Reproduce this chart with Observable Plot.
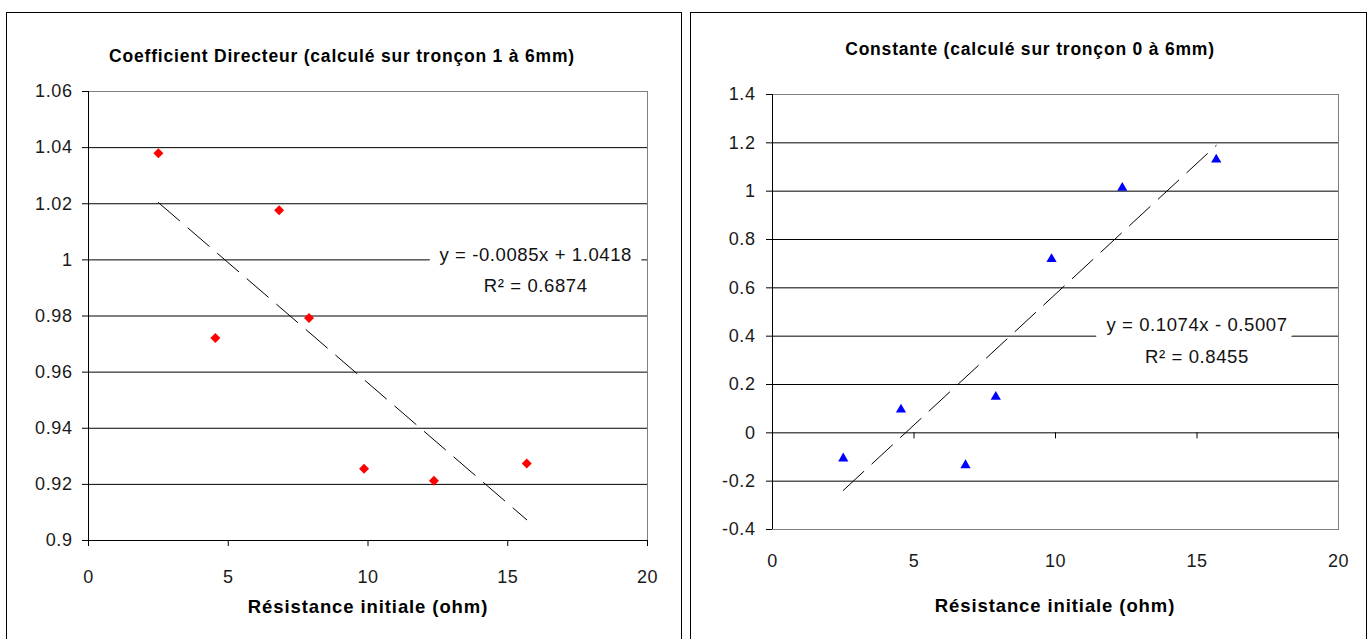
<!DOCTYPE html>
<html>
<head>
<meta charset="utf-8">
<script src="https://cdn.jsdelivr.net/npm/d3@7"></script>
<script src="https://cdn.jsdelivr.net/npm/@observablehq/plot@0.6"></script>
<style>
  html, body { margin: 0; padding: 0; background: #fff; }
  #page { position: relative; width: 1370px; height: 639px; overflow: hidden; background: #fff;
          font-family: "Liberation Sans", Arial, sans-serif; }
  .panel { position: absolute; top: 12px; height: 700px; box-sizing: border-box;
           border: 1px solid #000; z-index: 2; pointer-events: none; }
  .chart { position: absolute; top: 0; z-index: 1; }
  .title { position: absolute; font-weight: bold; font-size: 17.5px; line-height: 17.5px; letter-spacing: 0.8px;
           white-space: nowrap; transform: translateX(-50%); color: #000; z-index: 3; }
  .xtitle { position: absolute; font-weight: bold; font-size: 18.5px; line-height: 18.5px; letter-spacing: 0.9px;
            white-space: nowrap; transform: translateX(-50%); color: #000; z-index: 3; }
</style>
</head>
<body>
<div id="page">
  <div class="panel" style="left:6px; width:676px;"></div>
  <div class="panel" style="left:690px; width:677px;"></div>
  <div class="title" style="left:342px; top:48px;">Coefficient Directeur (calculé sur tronçon 1 à 6mm)</div>
  <div class="title" style="left:1030px; top:41px;">Constante (calculé sur tronçon 0 à 6mm)</div>
  <div class="xtitle" style="left:368px; top:598px;">Résistance initiale (ohm)</div>
  <div class="xtitle" style="left:1055px; top:597px;">Résistance initiale (ohm)</div>
  <div id="left" class="chart" style="left:0px;"></div>
  <div id="right" class="chart" style="left:685px;"></div>
</div>
<script>
// ---- data ----
const resistance     = [2.5, 4.54, 6.82, 7.89, 9.86, 12.36, 15.68];
const coeffDirecteur = [1.038, 0.9722, 1.0177, 0.9793, 0.9256, 0.9213, 0.9274];
const constante      = [-0.102, 0.100, -0.130, 0.153, 0.723, 1.018, 1.135];

const xTicks      = [0, 5, 10, 15, 20];
const leftYTicks  = [0.9, 0.92, 0.94, 0.96, 0.98, 1, 1.02, 1.04, 1.06];
const rightYTicks = [-0.4, -0.2, 0, 0.2, 0.4, 0.6, 0.8, 1, 1.2, 1.4];

const leftEquation  = ["y = -0.0085x + 1.0418", "R² = 0.6874"];
const rightEquation = ["y = 0.1074x - 0.5007", "R² = 0.8455"];

// ---- build ----
const leftData  = resistance.map((x, i) => ({x, y: coeffDirecteur[i]}));
const rightData = resistance.map((x, i) => ({x, y: constante[i]}));
const fmt = d => String(Math.round(d * 100) / 100);
const svgStyle = "background:transparent;font-family:'Liberation Sans',Arial,sans-serif;font-size:18px;letter-spacing:0.6px;color:#000;overflow:visible";

const leftPlot = Plot.plot({
  width: 685, height: 639,
  marginLeft: 88, marginRight: 38, marginTop: 91, marginBottom: 99,
  x: {domain: [0, 20]},
  y: {domain: [0.9, 1.06]},
  style: svgStyle,
  marks: [
    Plot.frame({stroke: "#808080"}),
    Plot.ruleY(leftYTicks.filter(d => d < 1.06), {stroke: "#000"}),
    Plot.ruleX([0], {stroke: "#000"}),
    Plot.axisY({ticks: leftYTicks, tickSize: 6, tickPadding: 10, tickFormat: fmt, label: null, fill: "#1a1a1a"}),
    Plot.axisX({ticks: xTicks, tickSize: 6, tickPadding: 24, tickFormat: fmt, label: null, fill: "#1a1a1a"}),
    Plot.linearRegressionY(leftData, {x: "x", y: "y", stroke: "#000", strokeWidth: 1, strokeDasharray: "28,11", ci: 0}),
    Plot.dot(leftData, {x: "x", y: "y", symbol: "diamond2", r: 4.5, fill: "#ff0000", stroke: null}),
    Plot.text([leftEquation.join("\n")], {x: 16, y: 0.9975, text: d => d, lineHeight: 1.67,
      fill: "#111", stroke: "white", strokeWidth: 22, strokeLinejoin: "round", fontSize: 18.5})
  ]
});
document.getElementById("left").appendChild(leftPlot);

const rightPlot = Plot.plot({
  width: 685, height: 639,
  marginLeft: 87, marginRight: 32, marginTop: 94, marginBottom: 110,
  x: {domain: [0, 20]},
  y: {domain: [-0.4, 1.4]},
  style: svgStyle,
  marks: [
    Plot.frame({stroke: "#808080"}),
    Plot.ruleY(rightYTicks.filter(d => d > -0.4 && d < 1.4), {stroke: "#000"}),
    Plot.ruleX([0], {stroke: "#000"}),
    Plot.ruleX(xTicks.filter(d => d > 0), {x: d => d, y1: 0, y2: 0, insetBottom: -6, stroke: "#000"}),
    Plot.axisY({ticks: rightYTicks, tickSize: 6, tickPadding: 11, tickFormat: fmt, label: null, fill: "#1a1a1a"}),
    Plot.axisX({ticks: xTicks, tickSize: 0, tickPadding: 25, tickFormat: fmt, label: null, fill: "#1a1a1a"}),
    Plot.linearRegressionY(rightData, {x: "x", y: "y", stroke: "#000", strokeWidth: 1, strokeDasharray: "28,11", ci: 0}),
    Plot.dot(rightData, {x: "x", y: "y", symbol: "triangle", r: 3.8, dy: 1, fill: "#0000ff", stroke: null}),
    Plot.text([rightEquation.join("\n")], {x: 15, y: 0.398, text: d => d, lineHeight: 1.72,
      fill: "#111", stroke: "white", strokeWidth: 22, strokeLinejoin: "round", fontSize: 18.5})
  ]
});
document.getElementById("right").appendChild(rightPlot);
</script>
</body>
</html>
